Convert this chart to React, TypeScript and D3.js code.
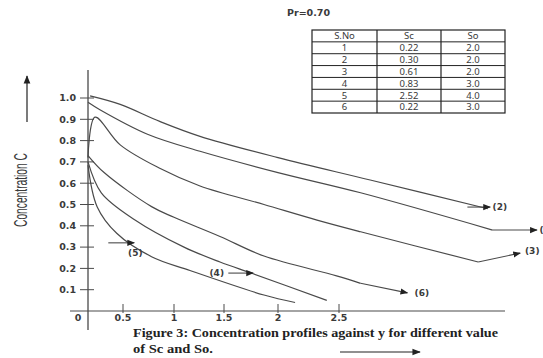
import * as d3 from "d3";

const W = 543;
const H = 358;

// table + header text
const prandtl = "Pr=0.70";
const tableHead = ["S.No", "Sc", "So"];
const serialNo = ["1", "2", "3", "4", "5", "6"];
const scValues = ["0.22", "0.30", "0.61", "0.83", "2.52", "0.22"];
const soValues = ["2.0", "2.0", "2.0", "3.0", "4.0", "3.0"];

const xTickValues = [0.5, 1, 1.5, 2, 2.5];
const xTickLabels = ["0.5", "1", "1.5", "2", "2.5"];
const yTickValues = [0.1, 0.2, 0.3, 0.4, 0.5, 0.6, 0.7, 0.8, 0.9, 1.0];

// curves: [y, C]
const curve2: [number, number][] = [[0.03, 1.01], [0.46, 0.97], [0.86, 0.89], [1.26, 0.82], [2.0, 0.72], [2.76, 0.615], [3.74, 0.48]];
const curve1: [number, number][] = [[0, 0.98], [0.17, 0.945], [0.74, 0.83], [1.26, 0.75], [2.0, 0.65], [2.68, 0.555], [3.78, 0.38]];
const curve3: [number, number][] = [[0, 0.72], [0.1, 0.91], [0.46, 0.78], [0.86, 0.67], [1.26, 0.587], [1.87, 0.5], [2.32, 0.427], [2.68, 0.372], [3.66, 0.23]];
const curve6: [number, number][] = [[0, 0.73], [0.23, 0.65], [0.78, 0.49], [1.0, 0.44], [1.46, 0.35], [1.87, 0.258], [2.48, 0.165], [2.68, 0.13]];
const curve4: [number, number][] = [[0, 0.7], [0.19, 0.555], [0.61, 0.43], [1.1, 0.3], [1.46, 0.23], [1.77, 0.175], [2.4, 0.05]];
const curve5: [number, number][] = [[0, 0.685], [0.13, 0.49], [0.41, 0.365], [0.78, 0.255], [1.16, 0.19], [1.87, 0.075], [2.14, 0.04]];

const curves = [curve2, curve1, curve3, curve6, curve4, curve5];

// pointer arrows: from, to, label position, anchor
const arrows = [
  { label: "(2)", from: [3.57, 0.488], to: [3.76, 0.488], at: [3.78, 0.488], anchor: "start" },
  { label: "(1)", from: [3.78, 0.38], to: [4.15, 0.38], at: [4.17, 0.38], anchor: "start" },
  { label: "(3)", from: [3.66, 0.23], to: [4.01, 0.272], at: [4.05, 0.282], anchor: "start" },
  { label: "(6)", from: [2.68, 0.13], to: [3.07, 0.085], at: [3.13, 0.085], anchor: "start" },
  { label: "(4)", from: [1.54, 0.178], to: [1.77, 0.178], at: [1.5, 0.178], anchor: "end" },
  { label: "(5)", from: [0.29, 0.32], to: [0.61, 0.32], at: [0.55, 0.272], anchor: "start" },
];

const captionLines = [
  "Figure 3: Concentration profiles against y for different value",
  "of Sc and So.",
];
const captionWidths = [365, 80];

const App = () => {
  // the hand drawn axis has uneven tick spacing, so x is polylinear
  const x = d3.scaleLinear()
    .domain([0, 0.5, 1, 1.5, 2, 2.5, 3.9])
    .range([88, 123, 174, 224, 278, 339, 507]);
  const y = d3.scaleLinear().domain([0, 1]).range([311, 98]);

  const line = d3.line<[number, number]>()
    .x((d) => x(d[0]))
    .y((d) => y(d[1]))
    .curve(d3.curveCatmullRom.alpha(0.5));

  const ink = "#4a4a4a";
  const txt = "#3a3a3a";
  const tickFont = "DejaVu Sans, sans-serif";

  // table layout
  const colX = [312, 377, 441, 505];
  const tTop = 30, tBottom = 113;
  const rowY = d3.scaleBand<number>().domain(d3.range(7)).range([tTop, tBottom]);
  const rows = [tableHead, ...serialNo.map((s, i) => [s, scValues[i], soValues[i]])];

  return (
    <div style={{ position: "absolute", left: 0, top: 0 }}>
      <svg width={W} height={H} style={{ display: "block", background: "#fff" }}>
        <defs>
          <marker id="head" viewBox="0 0 10 10" refX="9" refY="5" markerWidth="7" markerHeight="7" orient="auto">
            <path d="M0,1 L10,5 L0,9 z" fill="#222" />
          </marker>
        </defs>

        {/* axes */}
        <line x1={x(0)} x2={x(0)} y1={70} y2={330} stroke={ink} strokeWidth={1.3} />
        <line x1={70} x2={505} y1={y(0)} y2={y(0)} stroke={ink} strokeWidth={1.2} />
        {yTickValues.map((v) => (
          <g key={"y" + v}>
            <line x1={x(0) - 8} x2={x(0) + 6} y1={y(v)} y2={y(v)} stroke={ink} strokeWidth={1} />
            <text x={76} y={y(v)} dy="0.35em" textAnchor="end" fontFamily={tickFont} fontWeight="bold" fontSize={9.5} fill={txt}>
              {v.toFixed(1)}
            </text>
          </g>
        ))}
        {xTickValues.map((v, i) => (
          <g key={"x" + v}>
            <line x1={x(v)} x2={x(v)} y1={y(0) - 7} y2={y(0) + 2} stroke={ink} strokeWidth={1} />
            <text x={x(v)} y={y(0) + 10} textAnchor="middle" fontFamily={tickFont} fontWeight="bold" fontSize={9.5} fill={txt}>
              {xTickLabels[i]}
            </text>
          </g>
        ))}
        <text x={78} y={y(0) + 10} textAnchor="middle" fontFamily={tickFont} fontWeight="bold" fontSize={9.5} fill={txt}>0</text>

        {/* y title + arrow */}
        <text transform="translate(27,190) rotate(-90)" textAnchor="middle" fontFamily="Liberation Sans Narrow, sans-serif"
          fontSize={19} fill={txt} textLength={74} lengthAdjust="spacingAndGlyphs">Concentration C</text>
        <line x1={27} x2={27} y1={122} y2={76} stroke="#222" strokeWidth={1.2} markerEnd="url(#head)" />

        {/* curves */}
        {curves.map((c, i) => (
          <path key={i} d={line(c) || ""} fill="none" stroke={ink} strokeWidth={1.2} />
        ))}

        {/* pointer arrows */}
        {arrows.map((a) => (
          <g key={a.label}>
            <line x1={x(a.from[0])} y1={y(a.from[1])} x2={x(a.to[0])} y2={y(a.to[1])} stroke={ink} strokeWidth={1.1} markerEnd="url(#head)" />
            <text x={x(a.at[0])} y={y(a.at[1])} dy="0.35em" textAnchor={a.anchor as any} fontFamily={tickFont} fontWeight="bold" fontSize={9} fill={txt}>
              {a.label}
            </text>
          </g>
        ))}

        {/* Pr + table */}
        <text x={287} y={13} dy="0.35em" fontFamily={tickFont} fontWeight="bold" fontSize={9.5} fill={txt}>{prandtl}</text>
        <rect x={colX[0]} y={tTop} width={colX[3] - colX[0]} height={tBottom - tTop} fill="none" stroke="#222" strokeWidth={1.2} />
        {colX.slice(1, 3).map((cx) => (
          <line key={cx} x1={cx} x2={cx} y1={tTop} y2={tBottom} stroke="#222" strokeWidth={1.2} />
        ))}
        {d3.range(1, 7).map((r) => (
          <line key={r} x1={colX[0]} x2={colX[3]} y1={rowY(r)!} y2={rowY(r)!} stroke="#222" strokeWidth={1} />
        ))}
        {rows.map((row, r) =>
          row.map((cell, c) => (
            <text key={r + "-" + c} x={(colX[c] + colX[c + 1]) / 2} y={rowY(r)! + rowY.bandwidth() / 2} dy="0.35em"
              textAnchor="middle" fontFamily="Noto Sans, sans-serif" fontSize={9.5} fill={txt}>
              {cell}
            </text>
          ))
        )}

        {/* caption */}
        {captionLines.map((t, i) => (
          <text key={i} x={133} y={337 + i * 16} fontFamily="Liberation Serif, serif" fontWeight="bold" fontSize={12.5} fill="#222"
            textLength={captionWidths[i]} lengthAdjust="spacingAndGlyphs">{t}</text>
        ))}
        <line x1={340} x2={420} y1={352} y2={352} stroke="#222" strokeWidth={1.2} markerEnd="url(#head)" />
      </svg>
    </div>
  );
};

export default App;
